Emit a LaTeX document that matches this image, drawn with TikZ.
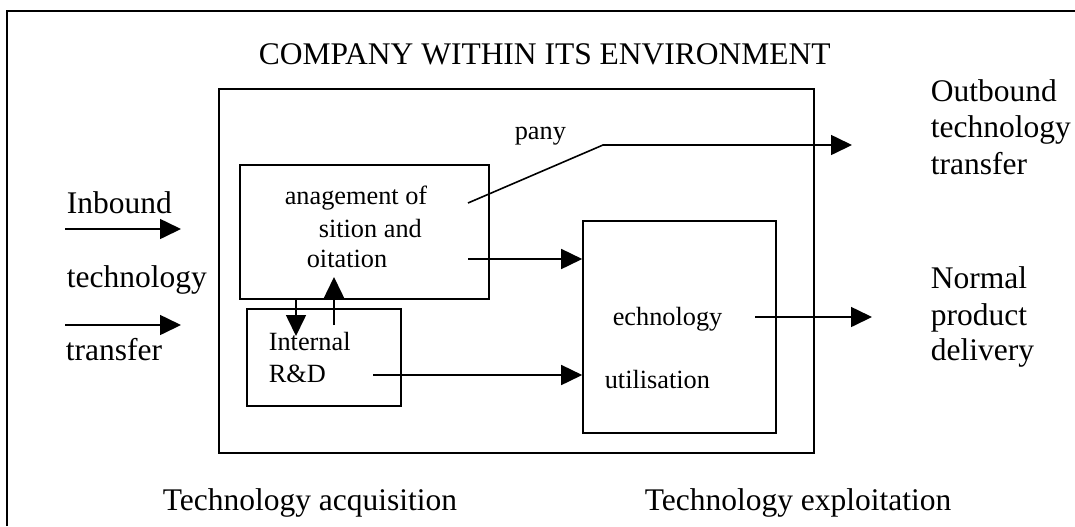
\documentclass[tikz,border=0pt]{standalone}
\usepackage{fontspec}
\setmainfont{Liberation Serif}
\usetikzlibrary{arrows.meta}
\begin{document}
\begin{tikzpicture}[x=0.5pt,y=-0.5pt,
  line width=0.8pt,
  big/.style={font=\fontsize{15.75}{18}\selectfont, inner sep=0pt, anchor=base west},
  small/.style={font=\fontsize{13.15}{15}\selectfont, inner sep=0pt, anchor=base west},
  box/.style={draw, rectangle, inner sep=0pt, line width=0.8pt},
  arr/.style={-{Triangle[length=10.5pt,width=10pt]}},
]
\useasboundingbox (0,0) rectangle (1075,526);
% outer frame (continues past the picture's edges)
\coordinate (fbl) at (7,526);
\coordinate (ftl) at (7,11);
\coordinate (ftr) at (1075,11);
\draw (fbl) -- (ftl) -- (ftr);

% boxes
\node[box, minimum width=297.5pt, minimum height=182pt] (company) at (516.5,271) {};
\node[box, minimum width=124.5pt, minimum height=67pt] (mgmt) at (364.5,232) {};
\node[box, minimum width=77pt, minimum height=48.5pt] (rd) at (324,357.5) {};
\node[box, minimum width=96.5pt, minimum height=106pt] (tech) at (679.5,327) {};

% texts
\node[big] (title) at (258,64) {COMPANY WITHIN ITS ENVIRONMENT};
\node[small] (pany) at (514,139) {pany};
\node[small] (m1) at (284,204) {anagement of};
\node[small] (m2) at (318,237) {sition and};
\node[small] (m3) at (306,267) {oitation};
\node[small] (rd1) at (268,350) {Internal};
\node[small] (rd2) at (268,382) {R\&D};
\node[small] (t1) at (612,325) {echnology};
\node[small] (t2) at (604,388) {utilisation};
\node[big] (in1) at (66,213) {Inbound};
\node[big] (in2) at (66,287) {technology};
\node[big] (in3) at (65,360) {transfer};
\node[big] (ob1) at (930,101) {Outbound};
\node[big] (ob2) at (930,137) {technology};
\node[big] (ob3) at (930,174) {transfer};
\node[big] (np1) at (930,288) {Normal};
\node[big] (np2) at (930,325) {product};
\node[big] (np3) at (930,360) {delivery};
\node[big] (acq) at (162,510) {Technology acquisition};
\node[big] (exp) at (644,510) {Technology exploitation};

% connector end points
\coordinate (ia1) at (65,229);
\coordinate (ib1) at (181,229);
\coordinate (ia2) at (65,325);
\coordinate (ib2) at (181,325);
\coordinate (os) at (468,203);
\coordinate (oc) at (603,145);
\coordinate (oe) at (852,145);
\coordinate (ms) at (468,259);
\coordinate (rs) at (373,375);
\coordinate (dE) at (296,336);
\coordinate (uS) at (334,325);
\coordinate (uE) at (334,277);
\coordinate (ts) at (755,317);
\coordinate (te) at (872,317);

% connectors
\draw[arr] (ia1) -- (ib1);
\draw[arr] (ia2) -- (ib2);
\draw[arr] (os) -- (oc) -- (oe);
\draw[arr] (ms) -- (tech.west |- ms);
\draw[arr] (rs) -- (tech.west |- rs);
\draw[arr] (mgmt.south -| dE) -- (dE);
\draw[arr] (uS) -- (uE);
\draw[arr] (ts) -- (te);
\end{tikzpicture}
\end{document}
